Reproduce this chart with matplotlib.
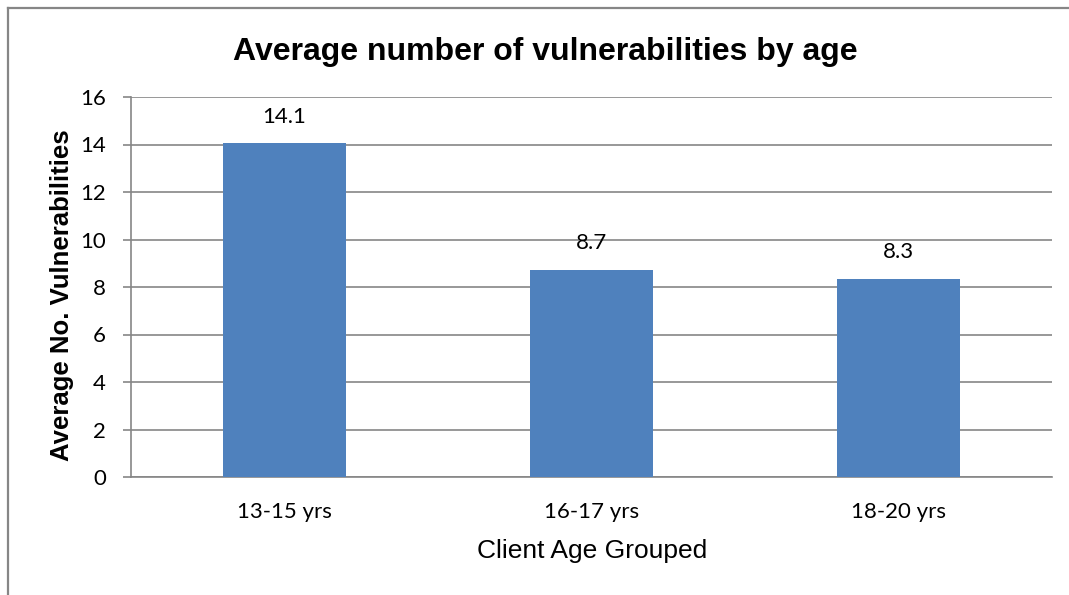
import matplotlib.pyplot as plt
from matplotlib.lines import Line2D

# Data
age_groups = ['13-15 yrs', '16-17 yrs', '18-20 yrs']
avg_vulnerabilities = [14.05, 8.73, 8.33]
y_ticks = [0, 2, 4, 6, 8, 10, 12, 14, 16]

bar_color = '#4F81BD'
grid_color = '#868686'
W, H = 1069, 595

fig = plt.figure(figsize=(W / 100, H / 100), dpi=100)
ax = fig.add_axes([131 / W, 1 - 477 / H, 921 / W, 380 / H])

x = list(range(len(age_groups)))
ax.bar(x, avg_vulnerabilities, width=0.4, color=bar_color, zorder=3)

# value labels above each bar
for xi, v in zip(x, avg_vulnerabilities):
    ax.annotate(f'{v:.1f}', (xi, v), xytext=(0, 12), textcoords='offset points',
                ha='center', va='bottom', fontsize=16, family='Lato')

ax.set_xlim(-0.5, 2.5)
ax.set_ylim(0, 16)
ax.set_yticks(y_ticks)
ax.yaxis.grid(True, color=grid_color, linewidth=1.2, zorder=0)
ax.set_axisbelow(True)

ax.set_xticks(x)
ax.set_xticklabels(age_groups, fontsize=16, family='Lato')
for lbl in ax.get_yticklabels():
    lbl.set_fontsize(16)
    lbl.set_family('Lato')

ax.tick_params(axis='x', length=0, pad=18)
ax.tick_params(axis='y', length=6, width=1.2, color=grid_color, pad=12)

for side in ['top', 'right']:
    ax.spines[side].set_visible(False)
for side in ['left', 'bottom']:
    ax.spines[side].set_color(grid_color)
    ax.spines[side].set_linewidth(1.2)

# axis titles and chart title
fig.text(592 / W, 1 - 551 / H, 'Client Age Grouped', ha='center', va='center',
         fontsize=19, family='Liberation Sans')
fig.text(62 / W, 1 - 295 / H, 'Average No. Vulnerabilities', ha='center',
         va='center', rotation=90, fontsize=18.5, fontweight='bold',
         family='Liberation Sans')
fig.text(545 / W, 1 - 52 / H, 'Average number of vulnerabilities by age',
         ha='center', va='center', fontsize=23, fontweight='bold',
         family='Liberation Sans')

# chart border (only top and left edges show in the cropped picture)
bx, by = 7.5 / W, 1 - 8 / H
fig.lines.append(Line2D([bx, bx], [0, by], transform=fig.transFigure,
                        color=grid_color, linewidth=1.6))
fig.lines.append(Line2D([bx, 1], [by, by], transform=fig.transFigure,
                        color=grid_color, linewidth=1.6))

fig.savefig('out.png', dpi=100)
